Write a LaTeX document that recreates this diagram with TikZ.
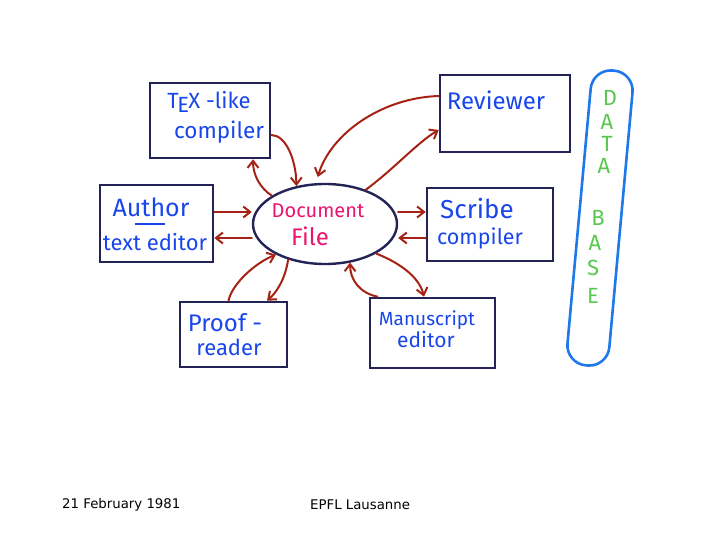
\documentclass[tikz,border=0pt]{standalone}
\usepackage{fontspec}
\setmainfont{Fira Sans}
\newfontfamily\footfont{DejaVu Sans}
\usetikzlibrary{shapes.geometric,arrows.meta}
\definecolor{penblue}{RGB}{25,70,235}
\definecolor{penpink}{RGB}{235,20,110}
\definecolor{pengreen}{RGB}{90,200,80}
\definecolor{boxink}{RGB}{35,35,85}
\definecolor{arrowred}{RGB}{165,35,20}
\definecolor{dbblue}{RGB}{30,120,235}
\newcommand{\fs}[1]{\fontsize{#1}{#1}\selectfont}
\newcommand{\handTeX}{T\kern-.06em\raisebox{-.3ex}{E}\kern-.04emX}
\tikzset{
  box/.style={draw=boxink,line width=2.6pt,inner sep=0pt},
  hand/.style={text=penblue,font=\fs{20},inner sep=0pt},
  dbletter/.style={text=pengreen,font=\fs{22},inner sep=0pt},
  flow/.style={draw=arrowred,line width=2pt,line cap=round,-{Straight Barb[length=7pt,width=11pt,line width=2pt]}},
}
\begin{document}
\begin{tikzpicture}[x=1pt,y=-1pt]
\useasboundingbox (0,0) rectangle (720,540);
% boxes
\node[box,minimum width=120pt,minimum height=75pt] (tex) at (210,120.5) {};
\node[box,minimum width=113pt,minimum height=77pt] (author) at (156.5,223.5) {};
\node[draw=boxink,line width=2.4pt,ellipse,minimum width=144pt,minimum height=80pt,inner sep=0pt] (doc) at (325,224) {};
\node[box,minimum width=130pt,minimum height=77pt] (reviewer) at (505,113.5) {};
\node[box,minimum width=126pt,minimum height=73pt] (scribe) at (490,224.5) {};
\node[box,minimum width=107pt,minimum height=65pt] (proof) at (233.5,334.5) {};
\node[box,minimum width=125pt,minimum height=70pt] (manu) at (432.5,333) {};
\node[draw=dbblue,line width=2.6pt,rounded corners=20pt,minimum width=42pt,minimum height=296pt,inner sep=0pt,rotate=-5.2] (db) at (600,218) {};
% texts
\node[hand,font=\fs{22}] (t1) at (209,102) {\handTeX\ -like};
\node[hand,font=\fs{22.5}] (t2) at (219,132) {compiler};
\node[hand,font=\fs{25}] (t3) at (151,207) {Author};
\draw[penblue,line width=2pt] (135,224) -- (165,224);
\node[hand,font=\fs{22}] (t4) at (155,242) {text editor};
\node[hand,text=penpink] (t5) at (318,211) {Document};
\node[hand,text=penpink,font=\fs{24}] (t6) at (310,236) {File};
\node[hand,font=\fs{24}] (t7) at (496,100) {Reviewer};
\node[hand,font=\fs{26}] (t8) at (477,209) {Scribe};
\node[hand,font=\fs{21.5}] (t9) at (480,238) {compiler};
\node[hand,font=\fs{24}] (t10) at (225,323) {Proof -};
\node[hand,font=\fs{22}] (t11) at (229,347) {reader};
\node[hand,font=\fs{19}] (t12) at (427,320) {Manuscript};
\node[hand,font=\fs{21}] (t13) at (426,339) {editor};
\foreach \ch/\xx/\yy in {D/610/98,A/607/122,T/607/144,A/604/166,B/598/218,A/595/243,S/593/268,E/593/296}
  \node[dbletter] at (\xx,\yy) {\ch};
% arrows
\draw[flow] (doc.152) .. controls (260,188) and (253,175) .. ([xshift=43pt]tex.south);
\draw[flow] ([yshift=-14.5pt]tex.east) .. controls (286,135) and (296,160) .. (doc.127);
\draw[flow] ([yshift=17.5pt]reviewer.west) .. controls (380,98) and (330,135) .. ([yshift=6pt]doc.100);
\draw[flow] (doc.40) .. controls (395,168) and (418,142) .. ([yshift=-16.5pt]reviewer.west);
\draw[flow] ([yshift=11.5pt]author.east) -- ([yshift=12pt]doc.west);
\draw[flow] ([yshift=-14pt]doc.west) -- ([yshift=-14.5pt]author.east);
\draw[flow] ([yshift=12pt]doc.east) -- ([yshift=12.5pt]scribe.west);
\draw[flow] ([yshift=-13.5pt]scribe.west) -- ([yshift=-14pt]doc.east);
\draw[flow] ([xshift=-5pt]proof.north) .. controls (232,284) and (255,263) .. (doc.212);
\draw[flow] (doc.224) .. controls (285,280) and (276,293) .. ([xshift=33.5pt]proof.north);
\draw[flow] ([xshift=-55pt]manu.north) .. controls (360,293) and (350,280) .. (doc.303);
\draw[flow] (doc.330) .. controls (405,265) and (420,280) .. ([xshift=-8.5pt]manu.north);
% footer
\node[font=\footfont\fs{13.3},anchor=west,inner sep=0pt] (date) at (62,505) {21 February 1981};
\node[font=\footfont\fs{13.3},anchor=west,inner sep=0pt] (place) at (310,505) {EPFL Lausanne};
\end{tikzpicture}
\end{document}
